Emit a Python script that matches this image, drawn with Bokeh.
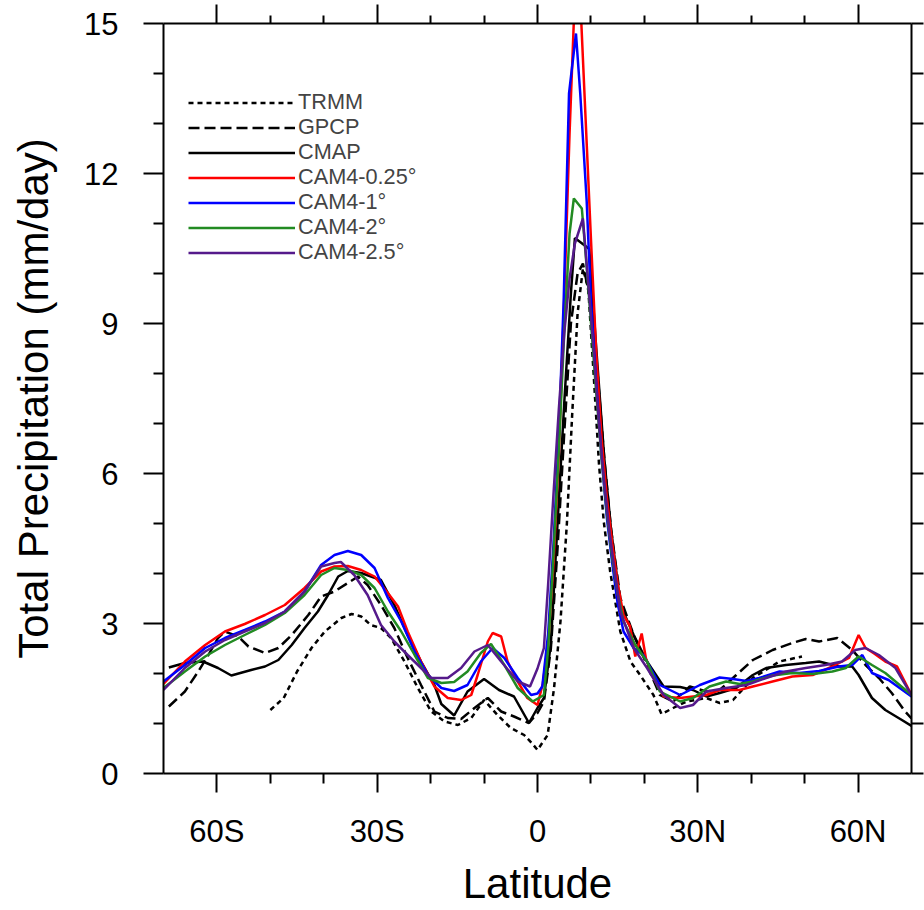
from bokeh.plotting import figure
from bokeh.models import FixedTicker, LinearAxis, Legend, LegendItem, Range1d
from bokeh.embed import file_html
from bokeh.resources import INLINE

# ---------------- data ----------------
trmm_lat = [-50, -47.5, -45, -42.3, -39.8, -36.7, -34.8, -33, -31.2, -29.3, -27.4, -24.9, -22.4,
            -19.9, -17.4, -14.9, -12.4, -10, -7.5, -5, -2.5, -1, 0, 1.9, 3.1, 4.3, 5.5, 6.5, 7.5,
            8.5, 9.5, 10.5, 11.5, 12.4, 13.6, 15.5, 17.4, 19.2, 21.7, 23.2, 25.4, 27.9, 31.6,
            34.1, 36.6, 40.3, 45.3, 49.5]
trmm_val = [1.27, 1.51, 2.04, 2.51, 2.84, 3.11, 3.19, 3.14, 2.97, 2.91, 2.71, 2.24, 1.71,
            1.24, 1.04, 0.97, 1.11, 1.47, 1.17, 0.91, 0.77, 0.6, 0.47, 0.77, 1.71, 3.04, 5.0, 7.2, 9.2,
            10.1, 9.7, 8.0, 6.2, 5.04, 4.04, 2.84, 2.24, 1.97, 1.57, 1.19, 1.31, 1.44, 1.51,
            1.41, 1.47, 1.91, 2.24, 2.34]

gpcp_lat = [-69, -66, -63.5, -61.6, -59.8, -58.5, -56, -54.1, -51, -48.5, -46, -42.9, -40.5, -38,
            -35.5, -33.6, -31.8, -29.3, -26.8, -24.3, -21.8, -19.3, -16.8, -14.3, -11.8, -9.3,
            -6.8, -4.4, -1.6, 0, 1.2, 2.5, 3.75, 5, 6.25, 7.5, 8.5, 10, 11.25, 12.5, 13.75, 15.5,
            18, 20.5, 22.9, 25.4, 28.5, 31.6, 34.1, 37.2, 40.3, 44, 47.7, 50.2, 52.7, 56.1, 58.9,
            61.4, 63.9, 66.3, 68.8, 70]
gpcp_val = [1.34, 1.64, 2.04, 2.37, 2.71, 2.84, 2.74, 2.54, 2.41, 2.51, 2.77, 3.17, 3.54, 3.64,
            3.81, 3.94, 3.77, 3.37, 2.91, 2.31, 1.77, 1.24, 1.11, 1.09, 1.31, 1.51,
            1.24, 1.14, 1.01, 1.21, 1.44, 2.5, 4.5, 6.8, 9.0, 10.0, 10.2, 9.4, 8.0, 6.3, 4.9, 3.51,
            2.77, 2.17, 1.57, 1.44, 1.74, 1.64, 1.67, 1.97, 2.27, 2.47, 2.61, 2.69, 2.64, 2.71, 2.47,
            2.17, 1.91, 1.61, 1.24, 1.1]

cmap_lat = [-69, -66, -62.6, -59.8, -57.3, -53.6, -51, -48.5, -46, -43.6, -41.1, -39.2, -37.3,
            -35.5, -33, -29.3, -26.8, -24.3, -21.8, -19.3, -18, -15.6, -13.1, -10, -7.2, -4.4,
            -1.6, 0, 1.2, 2.5, 3.75, 5, 6.25, 7, 9.7, 11, 12.5, 13.75, 15.5, 18, 20.5, 23.6, 26.7,
            29.1, 31.6, 34.1, 37.2, 40.3, 42.8, 46.5, 50.2, 52.7, 56.4, 58.9, 60.1, 62.6, 65.1,
            68.2, 70]
cmap_val = [2.12, 2.21, 2.24, 2.11, 1.96, 2.07, 2.14, 2.27, 2.57, 2.91, 3.24, 3.57, 3.94,
            4.05, 4.01, 3.87, 3.37, 2.77, 2.24, 1.77, 1.39, 1.16, 1.64, 1.89, 1.67, 1.54,
            1.01, 1.31, 1.51, 2.6, 5.0, 7.4, 9.6, 10.71, 10.49, 8.5, 6.3, 4.9, 3.37, 2.77, 2.24, 1.74, 1.73,
            1.67, 1.54, 1.61, 1.71, 1.97, 2.11, 2.17, 2.21, 2.24, 2.14, 2.14, 1.97, 1.51, 1.27,
            1.07, 0.95]

cam025_lat = [-70, -66, -62.2, -58.5, -54.8, -51, -47.3, -43.6, -40.5, -38, -35.5, -33, -30.5, -28,
              -26.1, -24.3, -21.8, -19.3, -16.8, -14.3, -12.4, -11.2, -9.3, -8.4, -6.8, -5.6, -3.7,
              -1.9, 0, 1, 2, 3, 4, 5, 6, 7, 7.5, 8, 9, 10, 11, 12, 13, 14, 15, 16.1, 17.3, 18.3,
              19.5, 20.3, 21.5, 23.6, 26.7, 31.6, 34.1, 37.8, 40.3, 44, 47.7, 51.5, 55.2, 58.3,
              60.1, 61.4, 63, 65.1, 67.3, 70]
cam025_val = [1.79, 2.24, 2.57, 2.84, 2.99, 3.17, 3.37, 3.71, 4.04, 4.14, 4.15, 4.07, 3.94, 3.61,
              3.34, 2.84, 2.24, 1.74, 1.51, 1.47, 1.57, 1.97, 2.64, 2.81, 2.74, 2.24, 1.84,
              1.51, 1.37, 1.8, 2.6, 4.2, 6.4, 9.5, 12.8, 15.6, 16.2, 15.5, 13.1, 10.7, 8.4, 6.7, 5.5, 4.6, 3.8, 3.17, 2.95, 2.34,
              2.8, 2.3, 1.95, 1.54, 1.51, 1.57, 1.67, 1.67, 1.74, 1.84, 1.94, 1.97, 2.14, 2.31,
              2.77, 2.51, 2.4, 2.24, 2.14, 1.57]

cam1_lat = [-70, -66, -62.2, -58.5, -54.8, -51, -47.3, -43.6, -40.5, -38, -35.5, -33, -30.5, -28,
            -25.5, -23, -20.5, -18, -15.6, -13.1, -10.6, -8.4, -6.2, -3.7, -1.2, 0, 0.9, 2, 3, 4,
            4.9, 5.9, 7.2, 8, 9.2, 10, 11, 12, 13, 14, 15, 16.1, 18, 19.8, 22.9, 26.7, 30.4, 34.1,
            36.6, 39.1, 41.5, 45.3, 49, 52.7, 56.4, 58.9, 60.8, 62.6, 65.7, 70]
cam1_val = [1.84, 2.17, 2.51, 2.71, 2.87, 3.04, 3.24, 3.64, 4.17, 4.37, 4.45, 4.37, 4.11, 3.51,
            3.04, 2.44, 1.97, 1.71, 1.65, 1.77, 2.24, 2.51, 2.31, 1.91, 1.57, 1.6, 1.74, 2.8, 4.6, 6.8,
            9.46, 13.6, 14.8, 13.6, 11.46, 9.46, 7.8, 6.3, 5.1, 4.2, 3.4, 2.84, 2.51, 2.37, 1.77, 1.57, 1.77, 1.92,
            1.89, 1.85, 1.91, 2.04, 2.01, 2.05, 2.14, 2.17, 2.37, 2.01, 1.87, 1.54]

cam2_lat = [-70, -66, -62.2, -58.5, -54.8, -51, -47.3, -43.6, -40.5, -38, -35.5, -33, -30.5, -28,
            -25.5, -23, -20.5, -18, -15.6, -13.1, -10.6, -8.7, -6.2, -3.7, -0.9, 1.2, 2, 3, 4, 5,
            6, 6.8, 8.3, 9, 9.7, 11, 12, 13, 14, 15, 16.1, 18.3, 20.5, 22.9, 26.7, 29.1, 32.2, 35.3,
            37.8, 40.3, 44, 47.7, 51.5, 55.2, 57.7, 60.1, 62.6, 65.1, 70]
cam2_val = [1.71, 2.04, 2.34, 2.57, 2.77, 2.97, 3.21, 3.57, 3.97, 4.11, 4.07, 3.97, 3.71, 3.24,
            2.84, 2.37, 1.91, 1.81, 1.83, 2.04, 2.41, 2.59, 2.17, 1.71, 1.44, 1.57, 2.5, 4.4, 6.5, 8.8,
            10.8, 11.5, 11.3, 10.4, 9.46, 7.6, 6.3, 5.2, 4.3, 3.6, 3.04, 2.57, 2.24, 1.64, 1.44, 1.51, 1.74, 1.84,
            1.79, 1.84, 1.96, 2.01, 1.99, 2.04, 2.11, 2.34, 2.17, 2.01, 1.57]

cam25_lat = [-70, -66, -62.2, -58.5, -54.8, -51, -47.3, -43.6, -40.5, -38, -36.8, -34.3, -31.8,
             -29.3, -26.8, -24.3, -21.8, -19.9, -16.8, -14.3, -11.8, -9.3, -6.8, -3.7, -1.4, 0,
             1.2, 2, 3, 4, 5, 6, 7, 8.5, 9.5, 10.5, 11.5, 12.5, 13.5, 14.5, 15.5, 18, 20.5, 23.6,
             26.7, 29.1, 31.6, 35.3, 39.1, 42.8, 46.5, 50.2, 53.9, 57, 59.5, 61.4, 63.9, 67, 70]
cam25_val = [1.67, 2.11, 2.44, 2.67, 2.84, 3.01, 3.24, 3.64, 4.14, 4.21, 4.23, 3.97, 3.57,
             2.97, 2.64, 2.37, 2.11, 1.91, 1.91, 2.11, 2.44, 2.57, 2.24, 1.84, 1.74, 2.1,
             2.51, 3.8, 5.6, 7.3, 8.8, 9.9, 10.6, 11.1, 9.8, 8.5, 7.0, 5.8, 4.8, 4.0, 3.24, 2.51, 2.11, 1.57,
             1.31, 1.37, 1.64, 1.71, 1.77, 1.91, 2.04, 2.11, 2.17, 2.24, 2.47, 2.51, 2.37, 2.11, 1.57]

x_major = [-60, -30, 0, 30, 60]
x_minor = [-50, -40, -20, -10, 10, 20, 40, 50]
x_labels = ["60S", "30S", "0", "30N", "60N"]
y_major = [0, 3, 6, 9, 12, 15]
y_minor = [1, 2, 4, 5, 7, 8, 10, 11, 13, 14]

series = [
    ("TRMM", trmm_lat, trmm_val, "black", "5 4"),
    ("GPCP", gpcp_lat, gpcp_val, "black", "11 5"),
    ("CMAP", cmap_lat, cmap_val, "black", "solid"),
    ("CAM4-0.25°", cam025_lat, cam025_val, "#ff0000", "solid"),
    ("CAM4-1°", cam1_lat, cam1_val, "#0000ff", "solid"),
    ("CAM4-2°", cam2_lat, cam2_val, "#228B22", "solid"),
    ("CAM4-2.5°", cam25_lat, cam25_val, "#551A8B", "solid"),
]

FONT = "Liberation Sans"

p = figure(width=924, height=910, x_range=Range1d(-70, 70), y_range=Range1d(0, 15),
           output_backend="svg", toolbar_location=None,
           min_border_left=163, min_border_right=13, min_border_top=23, min_border_bottom=137)
p.grid.visible = False
p.outline_line_color = None
p.background_fill_color = "white"

renderers = []
for name, xs, ys, col, dash in series:
    r = p.line(xs, ys, line_color=col, line_width=2.5, line_dash=dash)
    renderers.append((name, r))

xt = FixedTicker(ticks=x_major, minor_ticks=x_minor)
yt = FixedTicker(ticks=y_major, minor_ticks=y_minor)


def style(ax, tick_out, minor_out, labels=True):
    ax.axis_line_width = 2
    ax.axis_line_color = "black"
    ax.major_tick_line_width = 2
    ax.minor_tick_line_width = 2
    ax.major_tick_in = 0
    ax.minor_tick_in = 0
    ax.major_tick_out = tick_out
    ax.minor_tick_out = minor_out
    if labels:
        ax.major_label_text_font = FONT
        ax.major_label_text_font_size = "31px"
        ax.major_label_text_color = "black"
        ax.axis_label_text_font = FONT
        ax.axis_label_text_font_size = "42px"
        ax.axis_label_text_font_style = "normal"
        ax.axis_label_text_color = "black"
    else:
        ax.major_label_text_font_size = "0px"
        ax.major_label_text_alpha = 0
        ax.major_label_standoff = 0


xa = p.xaxis[0]
xa.ticker = xt
xa.major_label_overrides = {t: l for t, l in zip(x_major, x_labels)}
xa.axis_label = "Latitude"
style(xa, 19, 10)
xa.major_label_standoff = 21
xa.axis_label_standoff = 8

ya = p.yaxis[0]
ya.ticker = yt
ya.axis_label = "Total Precipitation (mm/day)"
style(ya, 20, 10)
ya.major_label_standoff = 25
ya.axis_label_standoff = 24

top = LinearAxis(ticker=xt)
style(top, 19, 8, labels=False)
p.add_layout(top, "above")

right = LinearAxis(ticker=yt)
style(right, 12, 12, labels=False)
p.add_layout(right, "right")

# one legend per entry so rows sit 25 px apart (as in the reference)
ROW = 25
for i, (name, r) in enumerate(renderers):
    lg = Legend(items=[LegendItem(label=name, renderers=[r])],
                location=(25, 658 - ROW * i), padding=0, margin=0, spacing=0,
                glyph_width=107, glyph_height=25, label_height=25, label_standoff=3,
                label_text_font=FONT, label_text_font_size="21.7px",
                border_line_alpha=0, background_fill_alpha=0)
    p.add_layout(lg)

open("out.html", "w").write(file_html(p, INLINE))
